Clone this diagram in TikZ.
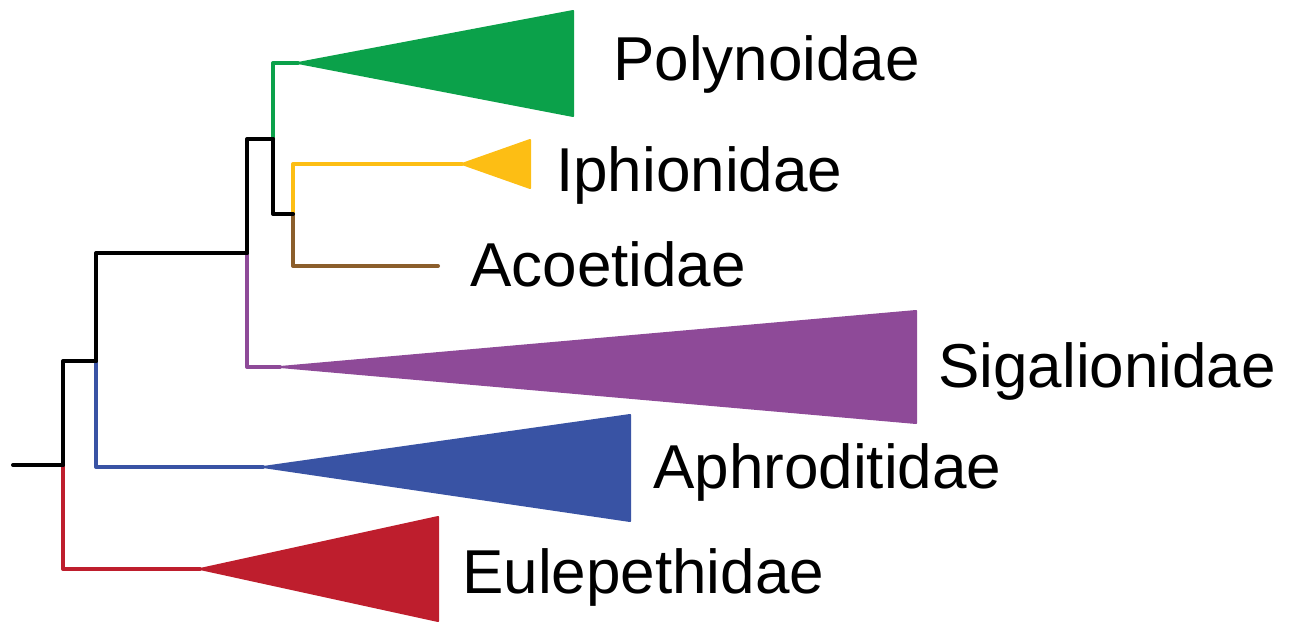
\documentclass[tikz,border=0pt]{standalone}
\usepackage{fontspec}
\setmainfont{Liberation Sans}
\definecolor{cgreen}{RGB}{11,161,74}
\definecolor{cyellow}{RGB}{253,190,20}
\definecolor{cbrown}{RGB}{139,94,43}
\definecolor{cpurple}{RGB}{142,74,152}
\definecolor{cblue}{RGB}{57,83,164}
\definecolor{cred}{RGB}{190,30,45}
\tikzset{
  branch/.style={line width=4pt, line cap=round, line join=round},
  clade/.style={line width=2pt, line join=round},
  taxon/.style={anchor=base west, inner sep=0pt, font=\fontsize{62}{70}\selectfont}
}
\begin{document}
\begin{tikzpicture}[x=1pt,y=-1pt]
\useasboundingbox (0,0) rectangle (1295,621);
% tree coordinates
\coordinate (rootL) at (13,465);
\coordinate (n0) at (63,465);
\coordinate (n0u) at (63,361);
\coordinate (n0d) at (63,569);
\coordinate (n1) at (96,361);
\coordinate (n1u) at (96,253);
\coordinate (n1d) at (96,467);
\coordinate (n2) at (247,253);
\coordinate (n2u) at (247,139);
\coordinate (n2d) at (247,367);
\coordinate (n3) at (273,139);
\coordinate (n3u) at (273,63);
\coordinate (n3d) at (273,214);
\coordinate (n4) at (293,214);
\coordinate (n4u) at (293,164);
\coordinate (n4d) at (293,266);
% clade apices and tips
\coordinate (gA) at (298,63);  \coordinate (gT) at (573,11);  \coordinate (gB) at (573,116);
\coordinate (yA) at (462,164); \coordinate (yT) at (530,140); \coordinate (yB) at (530,188);
\coordinate (acoTip) at (438,266);
\coordinate (pA) at (280,367); \coordinate (pT) at (916,311); \coordinate (pB) at (916,423);
\coordinate (bA) at (263,467); \coordinate (bT) at (630,415); \coordinate (bB) at (630,521);
\coordinate (rA) at (200,569); \coordinate (rT) at (438,517); \coordinate (rB) at (438,621);
% triangles
\filldraw[clade, draw=cgreen, fill=cgreen] (gA) -- (gT) -- (gB) -- cycle;
\filldraw[clade, draw=cyellow, fill=cyellow] (yA) -- (yT) -- (yB) -- cycle;
\filldraw[clade, draw=cpurple, fill=cpurple] (pA) -- (pT) -- (pB) -- cycle;
\filldraw[clade, draw=cblue, fill=cblue] (bA) -- (bT) -- (bB) -- cycle;
\filldraw[clade, draw=cred, fill=cred] (rA) -- (rT) -- (rB) -- cycle;
% coloured branches
\draw[branch, cred] (n0) -- (n0d) -- (rA);
\draw[branch, cblue] (n1) -- (n1d) -- (bA);
\draw[branch, cpurple] (n2) -- (n2d) -- (pA);
\draw[branch, cgreen] (n3) -- (n3u) -- (gA);
\draw[branch, cyellow] (n4) -- (n4u) -- (yA);
\draw[branch, cbrown] (n4) -- (n4d) -- (acoTip);
% black backbone
\draw[branch] (rootL) -- (n0);
\draw[branch] (n0) -- (n0u) -- (n1);
\draw[branch] (n1) -- (n1u) -- (n2);
\draw[branch] (n2) -- (n2u) -- (n3);
\draw[branch] (n3) -- (n3d) -- (n4);
% labels
\node[taxon] (lPoly) at (613,80) {Polynoidae};
\node[taxon] (lIph) at (556,191) {Iphionidae};
\node[taxon] (lAco) at (470,286) {Acoetidae};
\node[taxon] (lSig) at (938,387) {Sigalionidae};
\node[taxon] (lAph) at (653,488) {Aphroditidae};
\node[taxon] (lEul) at (462,593) {Eulepethidae};
\end{tikzpicture}
\end{document}
